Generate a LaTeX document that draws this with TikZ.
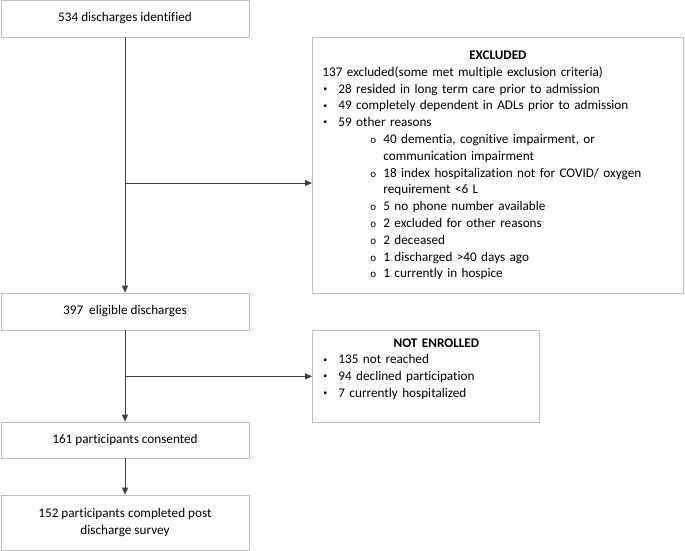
\documentclass[tikz,border=0pt]{standalone}
\usepackage{fontspec}
\setmainfont{Carlito}[Ligatures=NoCommon]
\usepackage{xcolor}
\usetikzlibrary{arrows.meta,positioning}
\definecolor{boxgrey}{HTML}{BFBFBF}
\definecolor{linegrey}{HTML}{404040}
\tikzset{
	basic/.style = {draw=boxgrey, line width=0.8pt, rectangle, inner sep=0pt},
	stage/.style = {basic, minimum width=248pt, minimum height=37pt, align=center},
	side/.style = {basic, anchor=north west, align=left, inner xsep=10pt},
	flow/.style = {->, draw=linegrey, line width=0.9pt}
}
\newcommand{\bul}{\makebox[16pt][l]{\hspace{1pt}\raisebox{1.8pt}{\fontsize{8}{8}\selectfont\textbullet}}}
\newcommand{\subbul}{\hspace{48pt}\makebox[13pt][l]{{\fontsize{11}{11}\selectfont o}}}
\newcommand{\subgap}{\hspace{61pt}}

\begin{document}
\begin{tikzpicture}[x=1pt, y=-1pt,
			>={Triangle[length=7pt,width=6pt]},
			font=\fontsize{13.2}{16.8}\selectfont]
			\useasboundingbox (0,0) rectangle (685,551);
			
			% main stages, top to bottom
			\node[stage] (b1) at (125,18.5) {534 discharges identified};
			\node[stage] (b2) at (125,311.5) {397\ \ eligible discharges};
			\node[stage, minimum height=36pt] (b3) at (125,440) {161 participants consented};
			\node[stage, minimum height=55pt] (b4) at (125,522.5) {152 participants completed post\\discharge survey};
			
			% boxes on the side
			\node[side, text width=351pt, minimum height=256pt] (ex) at (312,37) {%
				\makebox[\linewidth]{\textbf{EXCLUDED}}\\
				137 excluded(some met multiple exclusion criteria)\\
				\bul 28 resided in long term care prior to admission\\
				\bul 49 completely dependent in ADLs prior to admission\\
				\bul 59 other reasons\\
				\subbul 40 dementia, cognitive impairment, or\\
				\subgap communication impairment\\
				\subbul 18 index hospitalization not for COVID/ oxygen\\
				\subgap requirement <6 L\\
				\subbul 5 no phone number available\\
				\subbul 2 excluded for other reasons\\
				\subbul 2 deceased\\
				\subbul 1 discharged >40 days ago\\
				\subbul 1 currently in hospice};
			\node[side, text width=207pt, minimum height=92pt] (ne) at (312,330) {%
				\makebox[\linewidth]{\hspace{21pt}\textbf{NOT ENROLLED}}\\
				\bul 135 not reached\\
				\bul 94 declined participation\\
				\bul 7 currently hospitalized\\
				\mbox{}};
			
			% connectors
			\coordinate (j1) at (125,183);
			\draw[flow] (b1) -- (b2);
			\draw[flow] (j1) -- (j1 -| ex.west);
			\draw[flow] (b2) -- (b3);
			\draw[flow] (b2.south |- ne.west) -- (ne.west);
			\draw[flow] (b3) -- (b4);
		\end{tikzpicture}
\end{document}
